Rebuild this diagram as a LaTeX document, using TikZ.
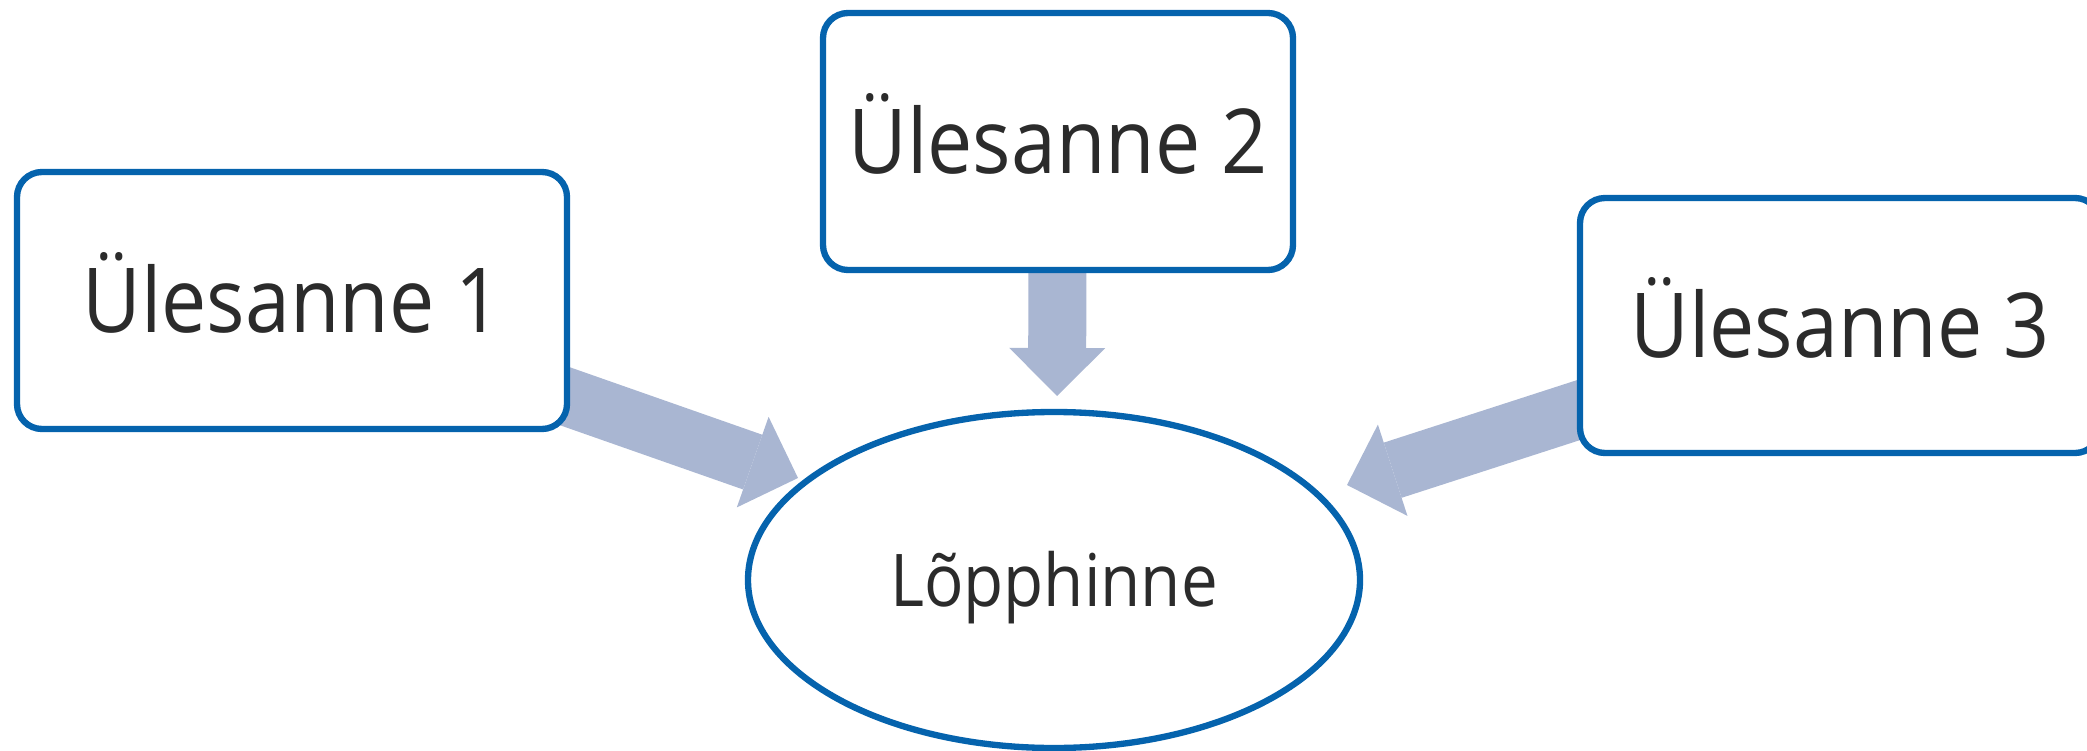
\documentclass[tikz,border=0pt]{standalone}
\usepackage{fontspec}
\setmainfont{Open Sans}[FakeStretch=0.9]
\usetikzlibrary{arrows.meta,shapes.geometric,backgrounds}

\definecolor{boxblue}{RGB}{5,99,173}
\definecolor{arrowblue}{RGB}{169,182,210}
\definecolor{textgray}{RGB}{43,43,43}

\begin{document}
\begin{tikzpicture}[
	task/.style={rectangle,rounded corners=0.25cm,draw=boxblue,line width=1.8pt,
		fill=white,inner sep=0pt,minimum height=2.57cm,text=textgray,
		text height=18.2pt,text depth=0pt,font=\fontsize{25.5}{30}\selectfont},
	final/.style={ellipse,draw=boxblue,line width=1.8pt,fill=white,inner sep=0pt,
		minimum width=6.12cm,minimum height=3.36cm,text=textgray,
		text height=14.8pt,text depth=0pt,font=\fontsize{20.7}{25}\selectfont},
	bigarrow/.style={draw=arrowblue,line width=0.58cm,
		-{Triangle[length=0.48cm,width=0.96cm,line width=0pt]}}
	]
	\useasboundingbox (0,0) rectangle (20.87,7.5);

		\node[task,minimum width=5.5cm] (t1) at (2.92,4.495) {Ülesanne 1};
		\node[task,minimum width=4.7cm] (t2) at (10.58,6.085) {Ülesanne 2};
		\node[task,minimum width=5.2cm,minimum height=2.55cm] (t3) at (18.40,4.245) {Ülesanne 3};
		\node[final] (f) at (10.54,1.70) {Lõpphinne};

		\coordinate (tip1) at (7.98,2.72);
		\coordinate (tip2) at (10.57,3.54);
		\coordinate (tip3) at (13.47,2.65);

		% arrows go behind the boxes
		\begin{pgfonlayer}{background}
			\draw[bigarrow] (t1.center) -- (tip1);
			\draw[bigarrow] (t2.center) -- (tip2);
			\draw[bigarrow] (t3.center) -- (tip3);
		\end{pgfonlayer}
	\end{tikzpicture}
\end{document}
